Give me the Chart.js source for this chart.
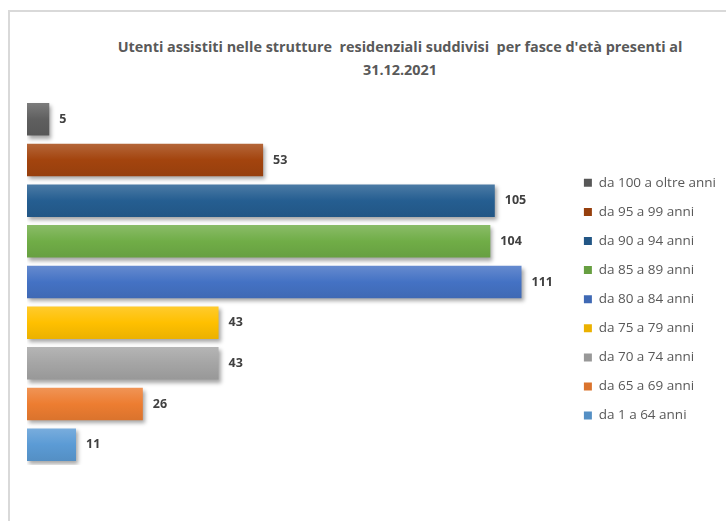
<!DOCTYPE html>
<html>
<head>
<meta charset="utf-8">
<script src="https://cdn.jsdelivr.net/npm/chart.js@4"></script>
<style>
  html, body { margin: 0; padding: 0; width: 726px; height: 521px; overflow: hidden; background: #fff; }
  #frame { position: absolute; left: 8px; top: 10px; width: 800px; height: 600px; border: 2px solid #d9d9d9; box-sizing: border-box; }
  #title { position: absolute; left: 100px; width: 600px; top: 35px; text-align: center; font: bold 14.4px "Open Sans", "Liberation Sans", Arial, sans-serif; color: #595959; line-height: 23px; }
  #wrap { position: absolute; left: 0; top: 0; width: 726px; height: 521px; }
</style>
</head>
<body>
<div id="frame"></div>
<div id="title">Utenti assistiti nelle strutture&nbsp; residenziali suddivisi&nbsp; per fasce d'età presenti al<br>31.12.2021</div>
<div id="wrap"><canvas id="c" width="726" height="521"></canvas></div>
<script>
const categories = ['da 100 a oltre anni', 'da 95 a 99 anni', 'da 90 a 94 anni', 'da 85 a 89 anni', 'da 80 a 84 anni', 'da 75 a 79 anni', 'da 70 a 74 anni', 'da 65 a 69 anni', 'da 1 a 64 anni'];
const values = [5, 53, 105, 104, 111, 43, 43, 26, 11];
const colors = ['#5f5f5f', '#a3440e', '#255e91', '#70ad47', '#4472c4', '#ffc000', '#a5a5a5', '#ed7d31', '#5b9bd5'];
const xMax = 121.5;

function shade(hex, amt) {
  const n = parseInt(hex.slice(1), 16);
  let r = (n >> 16) & 255, g = (n >> 8) & 255, b = n & 255;
  const f = c => Math.round(amt >= 0 ? c + (255 - c) * amt : c * (1 + amt));
  return 'rgb(' + f(r) + ',' + f(g) + ',' + f(b) + ')';
}

function makeBg(color) {
  return function (ctx) {
    if (ctx.type !== 'data') return color;
    const chart = ctx.chart;
    if (!chart.chartArea) return color;
    const ys = chart.scales.y;
    const yc = ys.getPixelForValue(ctx.dataIndex);
    const half = ys.height / categories.length * 0.4;
    const g = chart.ctx.createLinearGradient(0, yc - half, 0, yc + half);
    g.addColorStop(0, shade(color, 0.18));
    g.addColorStop(0.5, color);
    g.addColorStop(1, shade(color, -0.08));
    return g;
  };
}

const datasets = categories.map((c, i) => ({
  label: c,
  data: values.map((v, j) => (j === i ? v : null)),
  backgroundColor: makeBg(colors[i]),
  borderWidth: 0,
  barPercentage: 0.8,
  categoryPercentage: 1
}));

const shadowPlugin = {
  id: 'shadow',
  beforeDatasetDraw(chart) {
    const ctx = chart.ctx;
    ctx.save();
    ctx.shadowColor = 'rgba(0,0,0,0.35)';
    ctx.shadowBlur = 4;
    ctx.shadowOffsetX = 2;
    ctx.shadowOffsetY = 3;
  },
  afterDatasetDraw(chart) {
    chart.ctx.restore();
  }
};

const labelPlugin = {
  id: 'valueLabels',
  afterDatasetsDraw(chart) {
    const ctx = chart.ctx;
    ctx.save();
    ctx.font = 'bold 12.5px "Open Sans", "Liberation Sans", Arial, sans-serif';
    ctx.fillStyle = '#404040';
    ctx.textBaseline = 'middle';
    ctx.textAlign = 'left';
    chart.data.datasets.forEach((ds, i) => {
      const meta = chart.getDatasetMeta(i);
      meta.data.forEach((el, j) => {
        const v = ds.data[j];
        if (v === null || v === undefined) return;
        ctx.fillText(String(v), el.x + 10, el.y);
      });
    });
    ctx.restore();
  }
};

new Chart(document.getElementById('c'), {
  type: 'bar',
  data: { labels: categories, datasets: datasets },
  options: {
    indexAxis: 'y',
    responsive: false,
    animation: false,
    layout: { padding: { left: 27, top: 99, bottom: 56, right: 0 } },
    scales: {
      x: { stacked: true, display: false, min: 0, max: xMax },
      y: { stacked: true, display: false }
    },
    plugins: {
      title: { display: false },
      tooltip: { enabled: false },
      legend: {
        position: 'right',
        align: 'center',
        title: { display: true, text: '', padding: 10 },
        labels: {
          boxWidth: 8,
          boxHeight: 8,
          padding: 15.6,
          color: '#595959',
          font: { family: '"Open Sans", "Liberation Sans", Arial, sans-serif', size: 13.5 }
        }
      }
    }
  },
  plugins: [shadowPlugin, labelPlugin]
});
</script>
</body>
</html>
